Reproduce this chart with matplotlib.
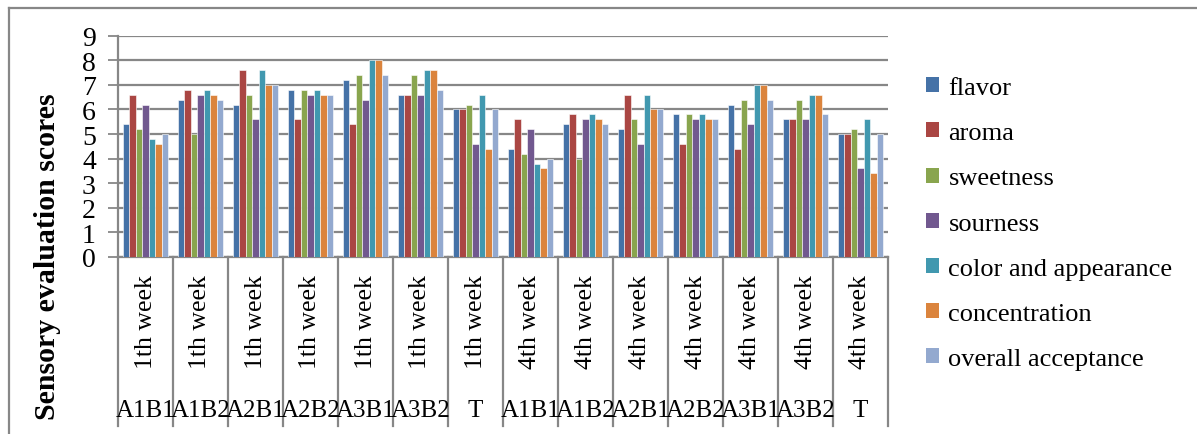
import matplotlib
matplotlib.use("Agg")
import matplotlib.pyplot as plt
from matplotlib.patches import Patch
from matplotlib.lines import Line2D
import matplotlib.transforms as mtransforms
import numpy as np

plt.rcParams['font.family'] = ['Liberation Serif', 'DejaVu Serif']

groups = ["A1B1", "A1B2", "A2B1", "A2B2", "A3B1", "A3B2", "T",
          "A1B1", "A1B2", "A2B1", "A2B2", "A3B1", "A3B2", "T"]
weeks = ["1th week"] * 7 + ["4th week"] * 7

flavor = [5.4, 6.4, 6.2, 6.8, 7.2, 6.6, 6.0, 4.4, 5.4, 5.2, 5.8, 6.2, 5.6, 5.0]
aroma = [6.6, 6.8, 7.6, 5.6, 5.4, 6.6, 6.0, 5.6, 5.8, 6.6, 4.6, 4.4, 5.6, 5.0]
sweetness = [5.2, 5.0, 6.6, 6.8, 7.4, 7.4, 6.2, 4.2, 4.0, 5.6, 5.8, 6.4, 6.4, 5.2]
sourness = [6.2, 6.6, 5.6, 6.6, 6.4, 6.6, 4.6, 5.2, 5.6, 4.6, 5.6, 5.4, 5.6, 3.6]
color_appearance = [4.8, 6.8, 7.6, 6.8, 8.0, 7.6, 6.6, 3.8, 5.8, 6.6, 5.8, 7.0, 6.6, 5.6]
concentration = [4.6, 6.6, 7.0, 6.6, 8.0, 7.6, 4.4, 3.6, 5.6, 6.0, 5.6, 7.0, 6.6, 3.4]
overall_acceptance = [5.0, 6.4, 7.0, 6.6, 7.4, 6.8, 6.0, 4.0, 5.4, 6.0, 5.6, 6.4, 5.8, 5.0]

series_names = ["flavor", "aroma", "sweetness", "sourness",
                "color and appearance", "concentration", "overall acceptance"]
series_values = [flavor, aroma, sweetness, sourness,
                 color_appearance, concentration, overall_acceptance]
series_colors = ["#4572A7", "#AA4643", "#89A54E", "#71588F",
                 "#4198AF", "#DB843D", "#93A9CF"]

W, H = 1197, 435
fig = plt.figure(figsize=(W / 100, H / 100), dpi=100)
ax = fig.add_axes([118 / W, 1 - 258 / H, (888 - 118) / W, (258 - 36.7) / H])

grid_col = "#878787"
n_groups = len(groups)
n_series = len(series_names)
x = np.arange(n_groups)
bar_w = 1 / (n_series + 1.5)
for i, (name, vals, col) in enumerate(zip(series_names, series_values, series_colors)):
    offs = (i - (n_series - 1) / 2) * bar_w
    ax.bar(x + offs, vals, width=bar_w, color=col, edgecolor="white",
           linewidth=0.4, label=name, zorder=3)

ax.set_xlim(-0.5, n_groups - 0.5)
ax.set_ylim(0, 9)
ax.set_yticks(range(0, 10))
ax.yaxis.grid(True, color=grid_col, linewidth=1.6, zorder=0)
ax.set_axisbelow(True)
ax.tick_params(axis="y", length=7, width=1.3, color=grid_col, pad=9,
               labelsize=20)
ax.set_xticks([])
for side in ["top", "right"]:
    ax.spines[side].set_visible(False)
for side in ["left", "bottom"]:
    ax.spines[side].set_color(grid_col)
    ax.spines[side].set_linewidth(1.6)

# multi-level category axis: separators and two label rows
trans = mtransforms.blended_transform_factory(ax.transData, ax.transAxes)
depth = -(427 - 258) / (258 - 36.7)
for b in np.arange(-0.5, n_groups, 1.0):
    ax.add_line(Line2D([b, b], [0, depth], transform=trans, color=grid_col,
                       linewidth=1.6, clip_on=False))
week_y = -(322 - 258) / (258 - 36.7)
grp_y = -(411 - 258) / (258 - 36.7)
for xi, (g, wk) in enumerate(zip(groups, weeks)):
    ax.text(xi, week_y, wk, transform=trans, rotation=90, ha="center",
            va="center", fontsize=18.5)
    ax.text(xi, grp_y, g, transform=trans, ha="center", va="center",
            fontsize=18)

fig.text(48 / W, 1 - 257 / H, "Sensory evaluation scores", rotation=90,
         ha="center", va="center", fontsize=21.5, fontweight="bold")

handles = [Patch(facecolor=c, edgecolor="none") for c in series_colors]
fig.legend(handles, series_names, loc="upper left",
           bbox_to_anchor=(926 / W, 1 - 78 / H), frameon=False, fontsize=19,
           handlelength=0.5, handleheight=0.5, handletextpad=0.35,
           labelspacing=0.88, borderaxespad=0, borderpad=0)

# outer chart border
fig.add_artist(Line2D([9 / W, 1], [1 - 9 / H, 1 - 9 / H], color=grid_col,
                      linewidth=1.6, transform=fig.transFigure))
fig.add_artist(Line2D([9 / W, 9 / W], [0, 1 - 9 / H], color=grid_col,
                      linewidth=1.6, transform=fig.transFigure))

fig.savefig("out.png", dpi=100, facecolor="white")
